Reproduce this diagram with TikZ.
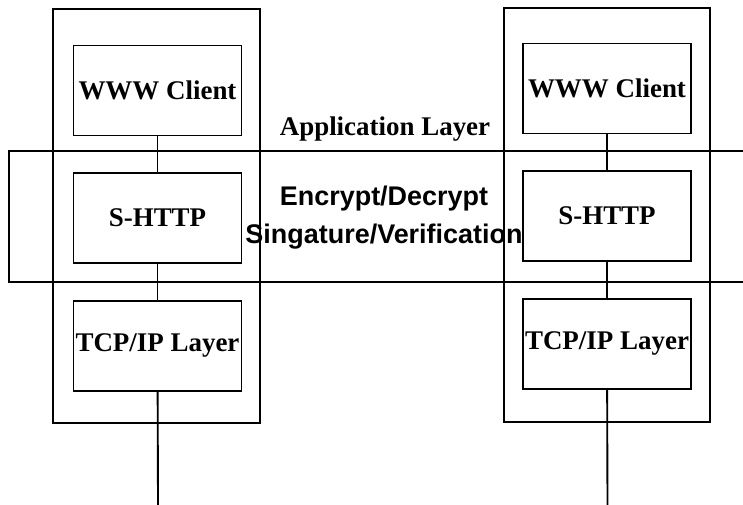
\documentclass[tikz,border=0pt]{standalone}
\usepackage{fontspec}
\setmainfont{Liberation Serif}
\setsansfont{Liberation Sans}
\usetikzlibrary{positioning}

\tikzset{
  layerbox/.style={rectangle, draw=black, line width=1.6pt, minimum width=5.04cm, minimum height=2.7cm, inner sep=0pt, font=\fontsize{23}{26}\selectfont\bfseries},
  wire/.style={line width=1.6pt},
  bandtext/.style={anchor=base, inner sep=0pt, font=\fontsize{23}{26}\selectfont\sffamily\bfseries}
}

\begin{document}
\begin{tikzpicture}[x=0.03cm, y=-0.03cm, node distance=1.07cm]
\useasboundingbox (0,0) rectangle (743,505);

% left host
\draw [wire] (53,9) rectangle (260,423);
\node (wwwA) [layerbox] at (157.5,90.5) {WWW Client};
\node (shttpA) [layerbox, below=of wwwA] {S-HTTP};
\node (tcpA) [layerbox, below=of shttpA] {TCP/IP Layer};
\coordinate (endA) at (158,505);

% right host
\draw [wire] (504,8) rectangle (710,422);
\node (wwwB) [layerbox] at (607,88.5) {WWW Client};
\node (shttpB) [layerbox, below=of wwwB] {S-HTTP};
\node (tcpB) [layerbox, below=of shttpB] {TCP/IP Layer};
\coordinate (endB) at (607.5,505);

% security band
\draw [wire] (743,151) -- (9,151) -- (9,282) -- (743,282);

\draw [wire] (wwwA) -- (shttpA);
\draw [wire] (shttpA) -- (tcpA);
\draw [wire] (tcpA) -- (endA);
\draw [wire] (wwwB) -- (shttpB);
\draw [wire] (shttpB) -- (tcpB);
\draw [wire] (tcpB) -- (endB);

\node (app) [anchor=base, inner sep=0pt, font=\fontsize{23}{26}\selectfont\bfseries] at (385,135) {Application Layer};
\node (enc) [bandtext] at (384,205) {Encrypt/Decrypt};
\node (sig) [bandtext] at (384,243) {Singature/Verification};
\end{tikzpicture}
\end{document}
